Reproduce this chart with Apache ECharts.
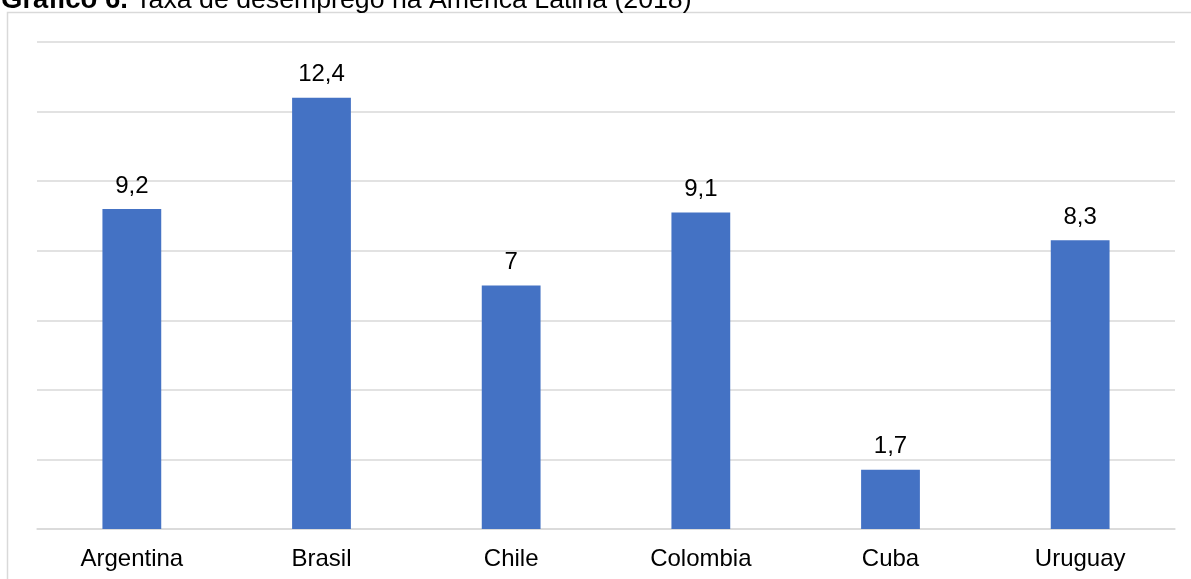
<!DOCTYPE html>
<html>
<head>
<meta charset="utf-8">
<script src="https://cdn.jsdelivr.net/npm/echarts@6/dist/echarts.min.js"></script>
<style>
html,body{margin:0;padding:0;background:#fff;}
#chart{width:1191px;height:579px;}
</style>
</head>
<body>
<div id="chart"></div>
<script>
const categories = ['Argentina', 'Brasil', 'Chile', 'Colombia', 'Cuba', 'Uruguay'];
const values = [9.2, 12.4, 7, 9.1, 1.7, 8.3];
const titleBold = 'Gráfico 6.';
const titleRest = ' Taxa de desemprego na América Latina (2018)';

const FONT = '"Liberation Sans", Arial, sans-serif';
const chart = echarts.init(document.getElementById('chart'));
chart.setOption({
  animation: false,
  backgroundColor: '#fff',
  title: {
    text: '{b|' + titleBold + '}{r|' + titleRest + '}',
    left: 1,
    top: -13,
    padding: 0,
    textStyle: {
      fontWeight: 'normal',
      rich: {
        b: { fontFamily: FONT, fontSize: 27.5, fontWeight: 'bold', color: '#000', lineHeight: 27 },
        r: { fontFamily: FONT, fontSize: 26.7, fontWeight: 'normal', color: '#000', lineHeight: 27 }
      }
    }
  },
  graphic: [{
    type: 'rect',
    silent: true,
    shape: { x: 7.5, y: 12.5, width: 1200, height: 600 },
    style: { fill: 'none', stroke: '#d9d9d9', lineWidth: 1.5 },
    z: -10
  }],
  grid: { left: 37, right: 16, top: 42, bottom: 50 },
  xAxis: {
    type: 'category',
    data: categories,
    axisLine: { lineStyle: { color: '#d9d9d9', width: 1.5 } },
    axisTick: { show: false },
    axisLabel: { fontFamily: FONT, fontSize: 24, color: '#000', margin: 18 }
  },
  yAxis: {
    type: 'value',
    min: 0, max: 14, interval: 2,
    axisLabel: { show: false },
    axisLine: { show: false },
    axisTick: { show: false },
    splitLine: { lineStyle: { color: '#d9d9d9', width: 1.5 } }
  },
  series: [{
    type: 'bar',
    data: values,
    barWidth: '31%',
    itemStyle: { color: '#4472C4' },
    label: {
      show: true,
      position: 'top',
      distance: 11,
      fontFamily: FONT,
      fontSize: 24,
      color: '#000',
      formatter: p => String(p.value).replace('.', ',')
    }
  }]
});
</script>
</body>
</html>
